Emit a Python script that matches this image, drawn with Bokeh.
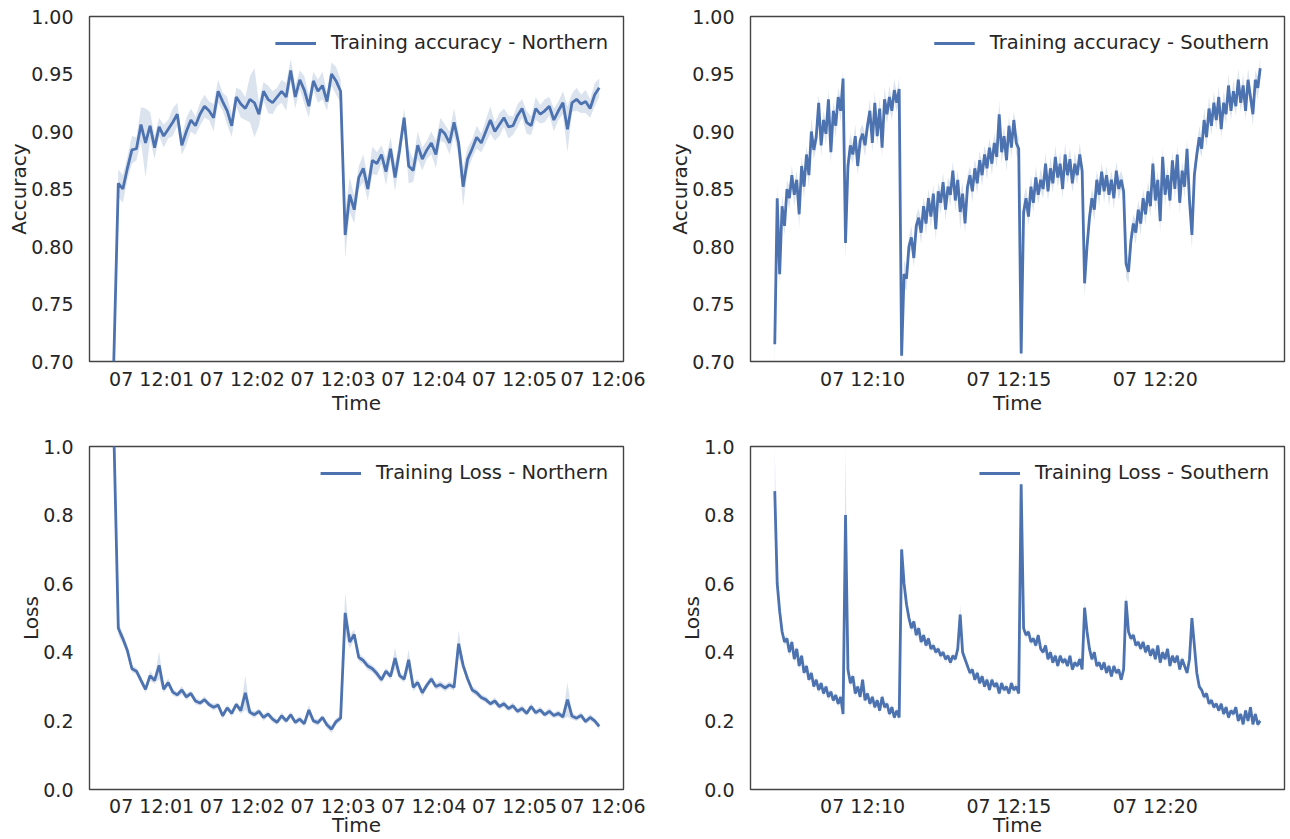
import numpy as np
import pandas as pd
from bokeh.plotting import figure
from bokeh.models import (ColumnDataSource, FixedTicker, DatetimeTickFormatter,
                          Range1d, NumeralTickFormatter)
from bokeh.layouts import gridplot
from bokeh.embed import file_html
from bokeh.resources import INLINE

# ---------------- data ----------------
north_start = "2021-06-07 12:00:35"
north_step_s = 3
south_start = "2021-06-07 12:07:00"
south_step_s = 5

acc_north = [
    0.700, 0.855, 0.850, 0.868, 0.884, 0.885, 0.906, 0.890, 0.905, 0.886,
    0.904, 0.896, 0.902, 0.908, 0.915, 0.888, 0.900, 0.910, 0.905, 0.915,
    0.922, 0.918, 0.912, 0.935, 0.926, 0.918, 0.905, 0.930, 0.924, 0.920,
    0.928, 0.925, 0.915, 0.935, 0.928, 0.925, 0.930, 0.935, 0.930, 0.953,
    0.930, 0.945, 0.936, 0.922, 0.944, 0.935, 0.940, 0.926, 0.950, 0.944,
    0.935, 0.810, 0.845, 0.832, 0.860, 0.868, 0.850, 0.875, 0.872, 0.880,
    0.865, 0.885, 0.860, 0.884, 0.912, 0.870, 0.866, 0.888, 0.876, 0.884,
    0.890, 0.880, 0.902, 0.898, 0.890, 0.908, 0.890, 0.852, 0.876, 0.885,
    0.895, 0.890, 0.900, 0.910, 0.900, 0.906, 0.912, 0.904, 0.905, 0.914,
    0.920, 0.908, 0.905, 0.920, 0.915, 0.918, 0.922, 0.910, 0.918, 0.925,
    0.902, 0.925, 0.928, 0.924, 0.926, 0.920, 0.932, 0.938]
acc_north_spread = [
    0.020, 0.012, 0.012, 0.010, 0.012, 0.010, 0.015, 0.030, 0.012, 0.010,
    0.008, 0.010, 0.008, 0.012, 0.010, 0.008, 0.012, 0.010, 0.008, 0.010,
    0.010, 0.008, 0.012, 0.010, 0.008, 0.012, 0.010, 0.008, 0.012, 0.010,
    0.020, 0.030, 0.010, 0.008, 0.012, 0.010, 0.008, 0.010, 0.012, 0.010,
    0.010, 0.008, 0.012, 0.010, 0.008, 0.010, 0.012, 0.008, 0.010, 0.012,
    0.010, 0.020, 0.015, 0.012, 0.010, 0.012, 0.010, 0.012, 0.010, 0.008,
    0.012, 0.010, 0.012, 0.010, 0.008, 0.015, 0.010, 0.012, 0.010, 0.008,
    0.010, 0.012, 0.010, 0.008, 0.010, 0.012, 0.010, 0.017, 0.010, 0.008,
    0.010, 0.008, 0.010, 0.012, 0.008, 0.010, 0.008, 0.010, 0.008, 0.010,
    0.008, 0.010, 0.008, 0.010, 0.008, 0.010, 0.008, 0.010, 0.008, 0.010,
    0.020, 0.008, 0.010, 0.008, 0.010, 0.008, 0.010, 0.008]

loss_north = [
    1.050, 0.470, 0.440, 0.405, 0.352, 0.345, 0.318, 0.292, 0.332, 0.318,
    0.362, 0.292, 0.312, 0.284, 0.276, 0.290, 0.270, 0.280, 0.258, 0.252,
    0.262, 0.248, 0.240, 0.246, 0.215, 0.238, 0.222, 0.248, 0.230, 0.282,
    0.225, 0.218, 0.228, 0.210, 0.220, 0.205, 0.196, 0.215, 0.200, 0.218,
    0.196, 0.205, 0.192, 0.232, 0.200, 0.195, 0.210, 0.188, 0.176, 0.198,
    0.208, 0.515, 0.430, 0.452, 0.385, 0.376, 0.360, 0.352, 0.338, 0.320,
    0.345, 0.330, 0.383, 0.332, 0.322, 0.378, 0.298, 0.312, 0.282, 0.304,
    0.322, 0.300, 0.306, 0.296, 0.305, 0.298, 0.425, 0.362, 0.322, 0.290,
    0.282, 0.268, 0.262, 0.250, 0.258, 0.242, 0.250, 0.236, 0.244, 0.228,
    0.236, 0.222, 0.242, 0.224, 0.232, 0.218, 0.228, 0.216, 0.222, 0.212,
    0.262, 0.214, 0.208, 0.216, 0.198, 0.210, 0.200, 0.184]
loss_north_spread = [
    0.100, 0.020, 0.015, 0.012, 0.010, 0.010, 0.012, 0.010, 0.015, 0.010,
    0.040, 0.010, 0.012, 0.010, 0.008, 0.012, 0.010, 0.008, 0.010, 0.008,
    0.010, 0.008, 0.010, 0.008, 0.010, 0.008, 0.010, 0.008, 0.010, 0.050,
    0.008, 0.010, 0.008, 0.010, 0.008, 0.010, 0.008, 0.010, 0.008, 0.010,
    0.008, 0.010, 0.008, 0.015, 0.008, 0.010, 0.008, 0.010, 0.012, 0.010,
    0.010, 0.060, 0.020, 0.015, 0.012, 0.010, 0.012, 0.010, 0.012, 0.010,
    0.010, 0.010, 0.030, 0.010, 0.010, 0.030, 0.012, 0.010, 0.012, 0.010,
    0.010, 0.010, 0.010, 0.010, 0.010, 0.010, 0.040, 0.015, 0.010, 0.010,
    0.010, 0.008, 0.010, 0.008, 0.010, 0.008, 0.010, 0.008, 0.010, 0.008,
    0.010, 0.008, 0.010, 0.008, 0.010, 0.008, 0.010, 0.008, 0.010, 0.008,
    0.050, 0.010, 0.008, 0.010, 0.008, 0.010, 0.008, 0.010]

acc_south = [
    0.715, 0.842, 0.776, 0.835, 0.818, 0.850, 0.842, 0.862, 0.845, 0.858,
    0.828, 0.870, 0.852, 0.880, 0.862, 0.900, 0.884, 0.895, 0.925, 0.888,
    0.910, 0.898, 0.928, 0.882, 0.918, 0.905, 0.930, 0.918, 0.946, 0.803,
    0.870, 0.888, 0.880, 0.896, 0.870, 0.892, 0.898, 0.888, 0.905, 0.918,
    0.890, 0.925, 0.896, 0.920, 0.886, 0.928, 0.915, 0.930, 0.918, 0.936,
    0.925, 0.937, 0.705, 0.776, 0.772, 0.800, 0.808, 0.790, 0.818, 0.825,
    0.812, 0.835, 0.820, 0.842, 0.826, 0.846, 0.815, 0.848, 0.838, 0.856,
    0.832, 0.852, 0.845, 0.866, 0.840, 0.858, 0.830, 0.846, 0.820, 0.852,
    0.862, 0.848, 0.868, 0.855, 0.875, 0.862, 0.880, 0.868, 0.886, 0.872,
    0.890, 0.878, 0.915, 0.882, 0.896, 0.875, 0.905, 0.886, 0.910, 0.890,
    0.885, 0.707, 0.830, 0.842, 0.826, 0.852, 0.838, 0.860, 0.845, 0.858,
    0.850, 0.872, 0.848, 0.868, 0.855, 0.878, 0.860, 0.872, 0.850, 0.880,
    0.862, 0.876, 0.855, 0.872, 0.862, 0.880, 0.866, 0.768, 0.800, 0.825,
    0.842, 0.832, 0.858, 0.845, 0.865, 0.848, 0.862, 0.845, 0.858, 0.842,
    0.866, 0.850, 0.858, 0.848, 0.785, 0.778, 0.805, 0.820, 0.812, 0.832,
    0.820, 0.842, 0.828, 0.848, 0.835, 0.872, 0.840, 0.858, 0.822, 0.878,
    0.845, 0.862, 0.840, 0.875, 0.850, 0.880, 0.838, 0.866, 0.852, 0.885,
    0.840, 0.810, 0.862, 0.880, 0.895, 0.885, 0.910, 0.895, 0.920, 0.905,
    0.925, 0.910, 0.930, 0.902, 0.925, 0.915, 0.940, 0.918, 0.935, 0.922,
    0.945, 0.925, 0.940, 0.918, 0.945, 0.930, 0.915, 0.945, 0.938, 0.955]
acc_south_spread = [
    0.020, 0.012, 0.010, 0.010, 0.008, 0.008, 0.010, 0.008, 0.010, 0.008,
    0.012, 0.008, 0.010, 0.008, 0.010, 0.012, 0.008, 0.010, 0.008, 0.010,
    0.008, 0.010, 0.008, 0.010, 0.008, 0.010, 0.008, 0.010, 0.008, 0.015,
    0.012, 0.010, 0.008, 0.010, 0.008, 0.010, 0.008, 0.010, 0.008, 0.010,
    0.008, 0.010, 0.008, 0.010, 0.008, 0.010, 0.008, 0.010, 0.008, 0.010,
    0.008, 0.010, 0.010, 0.012, 0.010, 0.008, 0.010, 0.008, 0.010, 0.008,
    0.010, 0.008, 0.010, 0.008, 0.010, 0.008, 0.010, 0.008, 0.010, 0.008,
    0.010, 0.008, 0.010, 0.008, 0.010, 0.008, 0.015, 0.010, 0.008, 0.010,
    0.008, 0.010, 0.008, 0.010, 0.008, 0.010, 0.008, 0.010, 0.008, 0.010,
    0.008, 0.010, 0.012, 0.010, 0.008, 0.010, 0.008, 0.010, 0.008, 0.010,
    0.010, 0.010, 0.012, 0.010, 0.008, 0.010, 0.008, 0.010, 0.008, 0.010,
    0.008, 0.010, 0.008, 0.010, 0.008, 0.010, 0.008, 0.010, 0.008, 0.010,
    0.008, 0.010, 0.008, 0.010, 0.008, 0.010, 0.008, 0.012, 0.010, 0.010,
    0.008, 0.010, 0.008, 0.010, 0.008, 0.010, 0.008, 0.010, 0.008, 0.010,
    0.008, 0.010, 0.008, 0.010, 0.012, 0.010, 0.010, 0.008, 0.010, 0.008,
    0.010, 0.008, 0.010, 0.008, 0.010, 0.008, 0.010, 0.008, 0.010, 0.008,
    0.010, 0.008, 0.010, 0.008, 0.010, 0.008, 0.010, 0.008, 0.010, 0.008,
    0.010, 0.012, 0.010, 0.008, 0.010, 0.008, 0.010, 0.008, 0.010, 0.008,
    0.010, 0.008, 0.010, 0.008, 0.010, 0.008, 0.010, 0.008, 0.010, 0.008,
    0.010, 0.008, 0.010, 0.008, 0.010, 0.008, 0.010, 0.008, 0.010, 0.008]

loss_south = [
    0.870, 0.600, 0.520, 0.460, 0.430, 0.440, 0.400, 0.430, 0.380, 0.410,
    0.360, 0.390, 0.340, 0.360, 0.320, 0.340, 0.300, 0.320, 0.290, 0.310,
    0.280, 0.300, 0.270, 0.285, 0.260, 0.275, 0.250, 0.270, 0.220, 0.800,
    0.350, 0.310, 0.330, 0.280, 0.300, 0.270, 0.320, 0.260, 0.280, 0.250,
    0.270, 0.240, 0.260, 0.230, 0.270, 0.240, 0.250, 0.220, 0.240, 0.210,
    0.230, 0.210, 0.700, 0.600, 0.540, 0.500, 0.470, 0.490, 0.450, 0.470,
    0.430, 0.450, 0.420, 0.440, 0.410, 0.420, 0.400, 0.410, 0.390, 0.400,
    0.380, 0.390, 0.370, 0.390, 0.380, 0.410, 0.510, 0.400, 0.380, 0.360,
    0.340, 0.350, 0.320, 0.340, 0.310, 0.330, 0.300, 0.320, 0.290, 0.320,
    0.300, 0.310, 0.280, 0.310, 0.290, 0.300, 0.280, 0.310, 0.290, 0.300,
    0.280, 0.890, 0.470, 0.450, 0.460, 0.430, 0.440, 0.420, 0.450, 0.410,
    0.400, 0.420, 0.380, 0.400, 0.370, 0.390, 0.360, 0.390, 0.370, 0.380,
    0.360, 0.390, 0.350, 0.370, 0.360, 0.380, 0.350, 0.530, 0.460, 0.410,
    0.380, 0.400, 0.360, 0.370, 0.350, 0.370, 0.340, 0.360, 0.330, 0.360,
    0.340, 0.350, 0.320, 0.350, 0.550, 0.460, 0.440, 0.450, 0.420, 0.430,
    0.410, 0.430, 0.400, 0.420, 0.390, 0.410, 0.380, 0.420, 0.370, 0.400,
    0.380, 0.410, 0.360, 0.390, 0.370, 0.390, 0.350, 0.380, 0.360, 0.340,
    0.380, 0.500, 0.420, 0.340, 0.300, 0.290, 0.270, 0.280, 0.250, 0.260,
    0.240, 0.250, 0.230, 0.250, 0.220, 0.240, 0.210, 0.230, 0.220, 0.240,
    0.200, 0.220, 0.190, 0.230, 0.200, 0.240, 0.190, 0.220, 0.190, 0.200]
loss_south_spread = [
    0.130, 0.030, 0.015, 0.012, 0.010, 0.010, 0.012, 0.010, 0.012, 0.010,
    0.010, 0.008, 0.010, 0.008, 0.010, 0.008, 0.010, 0.008, 0.010, 0.008,
    0.010, 0.008, 0.010, 0.008, 0.010, 0.008, 0.010, 0.008, 0.010, 0.200,
    0.015, 0.010, 0.008, 0.010, 0.008, 0.010, 0.008, 0.010, 0.008, 0.010,
    0.008, 0.010, 0.008, 0.010, 0.008, 0.010, 0.008, 0.010, 0.008, 0.010,
    0.008, 0.010, 0.020, 0.015, 0.010, 0.008, 0.010, 0.008, 0.010, 0.008,
    0.010, 0.008, 0.010, 0.008, 0.010, 0.008, 0.010, 0.008, 0.010, 0.008,
    0.010, 0.008, 0.010, 0.008, 0.010, 0.008, 0.030, 0.010, 0.008, 0.010,
    0.008, 0.010, 0.008, 0.010, 0.008, 0.010, 0.008, 0.010, 0.008, 0.010,
    0.008, 0.010, 0.008, 0.010, 0.008, 0.010, 0.008, 0.010, 0.008, 0.010,
    0.008, 0.030, 0.012, 0.010, 0.008, 0.010, 0.008, 0.010, 0.008, 0.010,
    0.008, 0.010, 0.008, 0.010, 0.008, 0.010, 0.008, 0.010, 0.008, 0.010,
    0.008, 0.010, 0.008, 0.010, 0.008, 0.010, 0.008, 0.020, 0.010, 0.010,
    0.008, 0.010, 0.008, 0.010, 0.008, 0.010, 0.008, 0.010, 0.008, 0.010,
    0.008, 0.010, 0.008, 0.010, 0.020, 0.010, 0.010, 0.008, 0.010, 0.008,
    0.010, 0.008, 0.010, 0.008, 0.010, 0.008, 0.010, 0.008, 0.010, 0.008,
    0.010, 0.008, 0.010, 0.008, 0.010, 0.008, 0.010, 0.008, 0.010, 0.008,
    0.010, 0.015, 0.010, 0.008, 0.010, 0.008, 0.010, 0.008, 0.010, 0.008,
    0.010, 0.008, 0.010, 0.008, 0.010, 0.008, 0.010, 0.008, 0.010, 0.008,
    0.010, 0.008, 0.010, 0.008, 0.010, 0.008, 0.010, 0.008, 0.010, 0.008]

north_tick_labels = ["2021-06-07 12:01", "2021-06-07 12:02", "2021-06-07 12:03",
                     "2021-06-07 12:04", "2021-06-07 12:05", "2021-06-07 12:06"]
south_tick_labels = ["2021-06-07 12:10", "2021-06-07 12:15", "2021-06-07 12:20"]
acc_ticks = [0.70, 0.75, 0.80, 0.85, 0.90, 0.95, 1.00]
loss_ticks = [0.0, 0.2, 0.4, 0.6, 0.8, 1.0]

# ---------------- styling ----------------
BLUE = "#4C72B0"
TXT = "#262626"
FONT = "DejaVu Sans"


def to_ms(ts):
    return float(pd.Timestamp(ts).value // 10**6)


def make_times(start, step, n):
    return to_ms(start) + np.arange(n) * step * 1000.0


def panel(start, step, vals, spread, ticks_lbl, yr, yticks, yfmt, ylabel,
          legend, width, height, bl, br, bt, bb, bottom_row):
    t = make_times(start, step, len(vals))
    v = np.array(vals)
    s = np.array(spread)
    src = ColumnDataSource(dict(t=t, y=v, lo=v - s, hi=v + s))
    span = t[-1] - t[0]
    p = figure(width=width, height=height, x_axis_type="datetime",
               output_backend="svg", toolbar_location=None,
               x_range=Range1d(t[0] - 0.05 * span, t[-1] + 0.05 * span),
               y_range=Range1d(*yr),
               min_border_left=bl, min_border_right=br,
               min_border_top=bt, min_border_bottom=bb)
    p.varea(x="t", y1="lo", y2="hi", source=src, fill_color=BLUE,
            fill_alpha=0.2)
    p.line(x="t", y="y", source=src, line_color=BLUE, line_width=2.8,
           legend_label=legend)

    p.xgrid.visible = False
    p.ygrid.visible = False
    p.outline_line_color = "#444444"
    p.outline_line_width = 1.4
    p.outline_line_alpha = 1.0
    p.background_fill_color = "white"
    p.border_fill_color = "white"

    p.xaxis.ticker = FixedTicker(ticks=[to_ms(x) for x in ticks_lbl])
    fmt = "%d %H:%M"
    p.xaxis.formatter = DatetimeTickFormatter(
        milliseconds=fmt, seconds=fmt, minsec=fmt, minutes=fmt,
        hourmin=fmt, hours=fmt, days=fmt, months=fmt, years=fmt)
    p.yaxis.ticker = FixedTicker(ticks=yticks)
    p.yaxis.formatter = NumeralTickFormatter(format=yfmt)
    p.xaxis.axis_label = "Time"
    p.yaxis.axis_label = ylabel

    for ax in (p.xaxis, p.yaxis):
        ax.axis_line_color = None
        ax.major_tick_line_color = None
        ax.minor_tick_line_color = None
        ax.major_label_text_font = FONT
        ax.major_label_text_font_size = "19px"
        ax.major_label_text_color = TXT
        ax.axis_label_text_font = FONT
        ax.axis_label_text_font_size = "20px"
        ax.axis_label_text_font_style = "normal"
        ax.axis_label_text_color = TXT
    p.yaxis.major_label_standoff = 10
    p.yaxis.axis_label_standoff = -3
    if bottom_row:
        p.xaxis.major_label_standoff = -1
        p.xaxis.axis_label_standoff = -7
    else:
        p.xaxis.major_label_standoff = 0
        p.xaxis.axis_label_standoff = -2

    lg = p.legend[0]
    lg.location = "top_right"
    lg.border_line_color = None
    lg.background_fill_alpha = 0.0
    lg.label_text_font = FONT
    lg.label_text_font_size = "19.5px"
    lg.label_text_color = TXT
    lg.glyph_width = 41
    lg.label_standoff = 15
    lg.padding = 8
    lg.margin = 15
    return p


p1 = panel(north_start, north_step_s, acc_north, acc_north_spread,
           north_tick_labels, (0.70, 1.00), acc_ticks, "0.00", "Accuracy",
           "Training accuracy - Northern", 645, 420, 89, 22, 16, 59, False)
p2 = panel(south_start, south_step_s, acc_south, acc_south_spread,
           south_tick_labels, (0.70, 1.00), acc_ticks, "0.00", "Accuracy",
           "Training accuracy - Southern", 645, 420, 105, 6, 16, 59, False)
p3 = panel(north_start, north_step_s, loss_north, loss_north_spread,
           north_tick_labels, (0.0, 1.0), loss_ticks, "0.0", "Loss",
           "Training Loss - Northern", 645, 419, 89, 22, 26, 50, True)
p4 = panel(south_start, south_step_s, loss_south, loss_south_spread,
           south_tick_labels, (0.0, 1.0), loss_ticks, "0.0", "Loss",
           "Training Loss - Southern", 645, 419, 105, 6, 26, 50, True)

grid = gridplot([[p1, p2], [p3, p4]], toolbar_location=None)

open("out.html", "w").write(file_html(grid, INLINE))
